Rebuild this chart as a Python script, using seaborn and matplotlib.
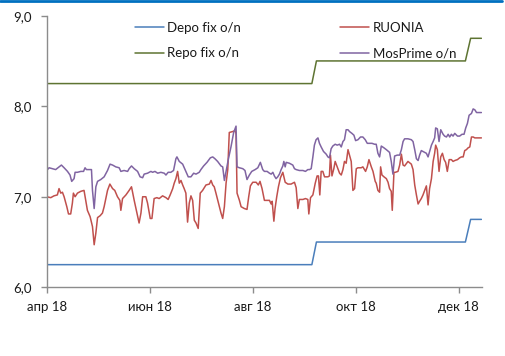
import numpy as np
import pandas as pd
import matplotlib
matplotlib.use("Agg")
import matplotlib.pyplot as plt
import matplotlib.lines as mlines
from matplotlib.ticker import FuncFormatter
import seaborn as sns

# ---------------- data (day offsets from 2018-04-01) ----------------
start = pd.Timestamp("2018-04-01")

step_days = [0, 157, 159.7, 247.9, 251, 257.4]
depo_vals = [6.25, 6.25, 6.5, 6.5, 6.75, 6.75]
repo_vals = [8.25, 8.25, 8.5, 8.5, 8.75, 8.75]

ruonia_days = [0, 2.4, 4.3, 6.3, 7.3, 8.3, 9.3, 10.3, 11.9, 12.9, 14.2, 15.2, 15.8, 16.8, 18.2,
               20.2, 22.1, 23.1, 24.1, 25.7, 27.1, 28.1, 29.1, 30.1, 31.6, 33.0, 34.0, 35.0, 36.0,
               37.4, 39.0, 40.3, 41.9, 43.3, 43.9, 44.9, 46.9, 48.8, 50.2, 51.8, 53.4, 54.7, 55.8,
               56.8, 58.7, 59.7, 61.3, 62.3, 63.6, 65.2, 66.6, 68.6, 70.6, 71.9, 73.1, 74.6, 75.5,
               76.5, 77.5, 78.5, 79.5, 80.5, 81.4, 82.4, 83.4, 84.4, 85.4, 86.4, 87.4, 88.4, 89.7,
               90.9, 92.3, 94.3, 96.3, 97.3, 98.3, 99.2, 100.2, 102.2, 103.2, 104.2, 105.2, 106.2,
               107.2, 108.1, 110.1, 111.5, 112.1, 112.7, 114.1, 115.1, 117.0, 118.6, 119.6, 120.6,
               122.0, 124.0, 125.3, 126.3, 127.5, 128.9, 130.5, 131.9, 132.9, 133.5, 134.5, 135.2,
               136.2, 137.2, 138.4, 139.8, 141.2, 142.8, 144.7, 146.7, 147.7, 148.7, 149.6, 151.7,
               153.2, 154.6, 155.2, 156.2, 157.6, 159.0, 160.1, 160.9, 161.7, 162.5, 163.5, 164.5,
               166.5, 167.4, 168.0, 168.9, 170.0, 170.8, 172.0, 173.4, 174.4, 175.4, 176.3, 177.3,
               178.4, 179.3, 180.3, 181.3, 182.3, 183.3, 184.3, 186.2, 187.2, 188.8, 189.8, 190.8,
               192.2, 193.2, 194.5, 195.1, 196.1, 197.1, 197.7, 198.5, 199.7, 201.1, 202.1, 203.0,
               204.0, 204.6, 205.6, 206.4, 208.0, 209.0, 210.0, 211.0, 211.9, 213.9, 215.9, 216.9,
               217.9, 218.9, 219.9, 220.8, 221.8, 222.8, 223.8, 224.8, 225.8, 226.7, 227.8, 228.8,
               229.7, 230.3, 231.3, 232.3, 233.3, 234.3, 235.3, 236.2, 237.2, 238.3, 239.6, 240.6,
               241.6, 243.2, 244.5, 245.6, 246.6, 247.5, 248.5, 249.5, 250.5, 251.5, 252.5, 253.5,
               257.4]
ruonia_vals = [7.00, 6.99, 7.01, 7.02, 7.09, 7.04, 7.05, 7.00, 6.89, 6.81, 6.81, 6.93, 7.04, 7.00, 7.04,
               7.06, 7.07, 6.96, 6.85, 6.78, 6.67, 6.47, 6.60, 6.77, 6.79, 6.82, 6.89, 6.98, 7.07,
               7.14, 7.09, 7.07, 7.00, 6.96, 6.85, 6.98, 7.02, 7.07, 7.11, 6.96, 6.82, 6.71, 6.82,
               7.00, 7.00, 6.93, 6.76, 6.76, 6.98, 6.99, 6.98, 7.01, 6.99, 6.97, 7.02, 7.09, 7.15,
               7.20, 7.28, 7.15, 7.18, 7.13, 7.09, 7.04, 6.72, 6.93, 7.01, 6.96, 6.74, 6.71, 6.65,
               7.04, 7.07, 7.13, 7.14, 7.18, 7.13, 7.11, 7.04, 6.89, 6.82, 6.76, 6.89, 7.15,
               7.30, 7.71, 7.72, 7.73, 7.70, 7.04, 6.96, 6.89, 6.87, 6.86, 7.00, 7.12,
               7.16, 7.16, 7.13, 7.17, 7.09, 6.96, 6.96, 6.96, 6.92, 6.95, 6.73, 6.87,
               7.00, 7.11, 7.21, 7.27, 7.16, 7.14, 7.14, 7.16, 7.10, 6.87, 6.97, 6.97,
               6.98, 6.97, 6.81, 6.99, 7.02, 7.15, 7.23, 7.23, 7.02, 7.28, 7.28, 7.22,
               7.22, 7.23, 7.46, 7.23, 7.31, 7.39, 7.33, 7.26, 7.24, 7.30, 7.39, 7.37,
               7.52, 7.46, 7.39, 7.07, 7.09, 7.31, 7.32, 7.32, 7.33, 7.28, 7.33, 7.41,
               7.33, 7.28, 7.17, 7.15, 7.07, 7.05, 7.33, 7.24, 7.22, 7.20, 7.16, 7.09,
               7.06, 6.85, 7.27, 7.27, 7.28, 7.35, 7.47, 7.35, 7.34, 7.39, 7.36, 7.30,
               7.13, 7.02, 6.92, 6.95, 6.98, 7.02, 7.07, 7.12, 6.91, 7.09, 7.20, 7.39,
               7.48, 7.57, 7.52, 7.28, 7.44, 7.48, 7.41, 7.38, 7.28, 7.41, 7.41, 7.39,
               7.40, 7.41, 7.43, 7.44, 7.44, 7.51, 7.52, 7.54, 7.55, 7.66, 7.66, 7.65,
               7.65]

mosprime_days = [0, 1.4, 3.4, 5.3, 7.3, 8.7, 10.3, 12.3, 13.8, 14.8, 16.2, 16.8, 18.2, 20.2, 21.8,
                 22.7, 23.5, 25.1, 26.5, 27.1, 28.1, 29.1, 30.1, 32.0, 34.0, 36.0, 37.5, 39.0,
                 40.9, 42.9, 43.9, 45.8, 47.9, 48.8, 50.2, 51.8, 53.8, 55.3, 56.8, 57.7, 59.7,
                 61.7, 62.7, 64.1, 65.7, 67.6, 69.6, 70.6, 71.9, 73.5, 75.1, 76.5, 77.1, 78.5,
                 80.5, 82.4, 83.8, 85.4, 87.0, 88.4, 90.3, 91.3, 92.9, 94.9, 96.9, 98.3, 99.6,
                 101.2, 103.2, 104.2, 105.2, 106.2, 107.5, 109.1, 110.7, 112.1, 112.7, 114.1,
                 116.1, 117.4, 118.6, 120.0, 121.4, 123.4, 125.0, 126.5, 127.9, 128.9, 130.5,
                 131.9, 132.9, 133.9, 134.8, 135.8, 136.8, 137.8, 138.8, 139.8, 140.4, 141.2,
                 141.8, 143.7, 145.7, 146.7, 147.7, 149.6, 151.7, 153.2, 154.6, 155.6, 156.6,
                 157.6, 158.5, 159.5, 160.6, 161.5, 162.5, 163.9, 165.5, 166.5, 167.4, 168.4,
                 169.4, 170.8, 172.0, 173.4, 174.4, 175.4, 176.3, 177.3, 178.4, 179.3, 180.7,
                 181.9, 182.9, 184.3, 185.8, 187.2, 188.6, 189.8, 191.2, 192.6, 194.1, 195.1,
                 196.1, 197.1, 198.1, 199.7, 201.1, 203.0, 204.0, 205.0, 206.0, 207.6, 209.0,
                 210.0, 211.0, 211.9, 213.9, 215.9, 216.9, 217.9, 218.9, 219.9, 220.8, 221.8,
                 223.8, 224.8, 225.8, 226.7, 227.8, 228.8, 229.7, 230.3, 231.3, 232.3, 233.3,
                 234.7, 235.6, 236.7, 237.7, 238.6, 239.6, 240.6, 241.6, 243.2, 244.5, 245.9,
                 247.1, 248.1, 249.1, 250.1, 251.5, 252.5, 253.5, 254.5, 255.5, 257.4]
mosprime_vals = [7.29, 7.32, 7.31, 7.30, 7.33, 7.35, 7.32, 7.28, 7.24, 7.17, 7.20, 7.27, 7.27, 7.28, 7.28,
                 7.32, 7.30, 7.30, 7.30, 7.07, 6.87, 7.11, 7.17, 7.19, 7.22, 7.29, 7.36, 7.35,
                 7.33, 7.32, 7.28, 7.29, 7.28, 7.31, 7.34, 7.31, 7.28, 7.22, 7.21, 7.25, 7.26,
                 7.28, 7.27, 7.28, 7.26, 7.27, 7.26, 7.24, 7.27, 7.27, 7.29, 7.42, 7.44, 7.39,
                 7.36, 7.28, 7.22, 7.22, 7.26, 7.25, 7.27, 7.30, 7.34, 7.38, 7.43, 7.44, 7.42,
                 7.39, 7.34, 7.33, 7.18, 7.28, 7.41, 7.55, 7.71, 7.78, 7.33, 7.32,
                 7.31, 7.29, 7.19, 7.24, 7.28, 7.30, 7.32, 7.38, 7.30, 7.28, 7.28,
                 7.26, 7.25, 7.27, 7.23, 7.20, 7.22, 7.25, 7.30, 7.34, 7.39, 7.33,
                 7.38, 7.37, 7.35, 7.31, 7.30, 7.29, 7.29, 7.28, 7.30, 7.30, 7.31,
                 7.44, 7.57, 7.63, 7.65, 7.59, 7.55, 7.50, 7.47, 7.44, 7.43, 7.53,
                 7.56, 7.58, 7.57, 7.58, 7.55, 7.61, 7.63, 7.74, 7.74, 7.72, 7.70,
                 7.68, 7.62, 7.63, 7.66, 7.66, 7.63, 7.59, 7.59, 7.59, 7.58, 7.58,
                 7.48, 7.44, 7.56, 7.54, 7.52, 7.49, 7.39, 7.25, 7.45, 7.46, 7.46,
                 7.52, 7.61, 7.64, 7.64, 7.63, 7.61, 7.52, 7.42, 7.40, 7.46, 7.51,
                 7.49, 7.48, 7.44, 7.50, 7.57, 7.61, 7.65, 7.76, 7.75, 7.61, 7.74,
                 7.69, 7.67, 7.66, 7.69, 7.66, 7.69, 7.67, 7.70, 7.67, 7.67, 7.69,
                 7.69, 7.76, 7.81, 7.90, 7.92, 7.97, 7.96, 7.93, 7.93, 7.93]

series_names = ["Depo fix o/n", "RUONIA", "Repo fix o/n", "MosPrime o/n"]
tick_dates = ["2018-04-01", "2018-06-01", "2018-08-01", "2018-10-01", "2018-12-01"]
tick_labels = ["апр 18", "июн 18", "авг 18", "окт 18", "дек 18"]
y_ticks = [6.0, 7.0, 8.0, 9.0]

# ---------------- build frame ----------------
def to_dates(days):
    return start + pd.to_timedelta(np.asarray(days, dtype=float), unit="D")

frames = [
    pd.DataFrame({"date": to_dates(step_days), "value": depo_vals, "series": series_names[0]}),
    pd.DataFrame({"date": to_dates(ruonia_days), "value": ruonia_vals, "series": series_names[1]}),
    pd.DataFrame({"date": to_dates(step_days), "value": repo_vals, "series": series_names[2]}),
    pd.DataFrame({"date": to_dates(mosprime_days), "value": mosprime_vals, "series": series_names[3]}),
]
df = pd.concat(frames, ignore_index=True)

colors = {"Depo fix o/n": "#4A7EBB", "RUONIA": "#C0504D",
          "Repo fix o/n": "#5E7432", "MosPrime o/n": "#8064A2"}

sns.set_theme(style="white")
plt.rcParams["font.family"] = ["Lato", "DejaVu Sans"]

fig = plt.figure(figsize=(5.05, 3.56), dpi=100)
ax = fig.add_axes([0.0925, 0.193, 0.8615, 0.763])

sns.lineplot(data=df, x="date", y="value", hue="series", hue_order=series_names,
             palette=colors, linewidth=1.1, ax=ax, legend=False, sort=False,
             estimator=None)

ax.set_xlim(start, start + pd.Timedelta(days=257.6))
ax.set_ylim(6.0, 9.0)
ax.set_yticks(y_ticks)
ax.yaxis.set_major_formatter(FuncFormatter(lambda v, p: f"{v:.1f}".replace(".", ",")))
ax.set_xticks(pd.to_datetime(tick_dates))
ax.set_xticklabels(tick_labels)
ax.set_xlabel("")
ax.set_ylabel("")

for s in ["top", "right"]:
    ax.spines[s].set_visible(False)
for s in ["left", "bottom"]:
    ax.spines[s].set_color("#8C8C8C")
    ax.spines[s].set_linewidth(1.0)
ax.tick_params(axis="both", which="major", length=4, width=1.0, color="#8C8C8C",
               labelsize=9.5, labelcolor="#1a1a1a", direction="out")
ax.tick_params(axis="y", pad=7)
ax.tick_params(axis="x", pad=6)
ax.tick_params(left=True, bottom=True)

# legend: column-wise fill -> row 1: Depo, RUONIA ; row 2: Repo, MosPrime
legend_order = ["Depo fix o/n", "Repo fix o/n", "RUONIA", "MosPrime o/n"]
handles = [mlines.Line2D([], [], color=colors[n], linewidth=1.1) for n in legend_order]
ax.legend(handles, legend_order, ncol=2, frameon=False, loc="upper left",
          bbox_to_anchor=(0.176, 1.02), fontsize=9.5, handlelength=2.2,
          handletextpad=0.25, columnspacing=7.5, labelspacing=1.0,
          labelcolor="#1a1a1a")

# top blue rule
fig.add_artist(mlines.Line2D([0.0, 0.995], [0.997, 0.997], transform=fig.transFigure,
                             color="#0070C0", linewidth=2.0))

fig.savefig("out.png", dpi=100)
